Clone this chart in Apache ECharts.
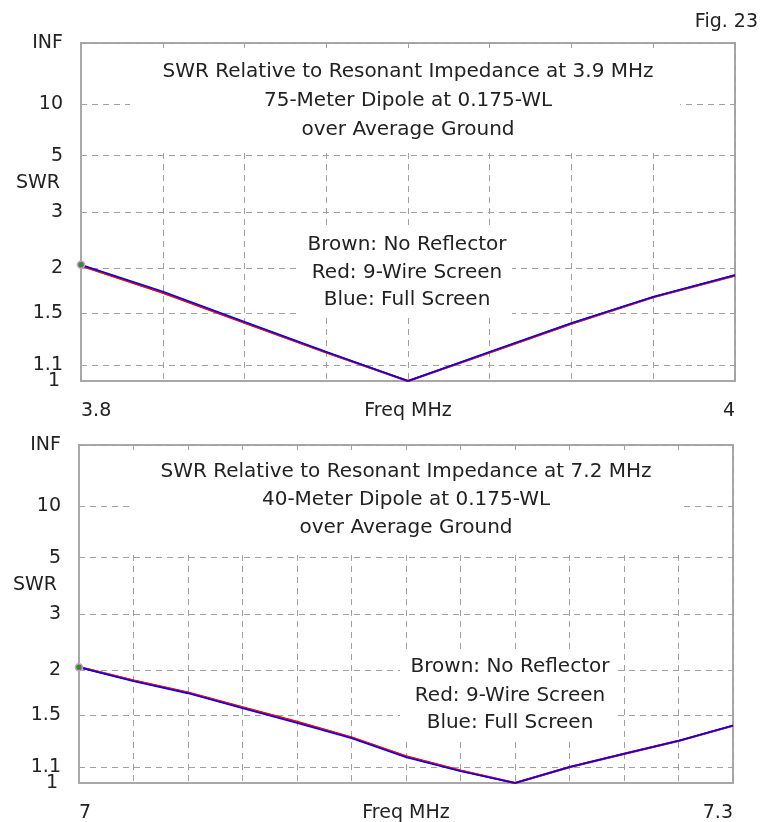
<!DOCTYPE html>
<html><head><meta charset="utf-8">
<script src="https://cdn.jsdelivr.net/npm/echarts@6/dist/echarts.min.js"></script>
<style>html,body{margin:0;padding:0;background:#fff}#c{width:761px;height:822px}</style>
</head><body><div id="c"></div>
<script>
// ---- data ----
const swrTickLabels = ['INF', 10, 5, 3, 2, 1.5, 1.1];
const swrBaseLabel = [1];

const freq75 = [3.8, 3.825, 3.85, 3.875, 3.9, 3.925, 3.95, 3.975, 4.0];
const brown75 = [2.035, 1.705, 1.415, 1.183, 1.0, 1.183, 1.408, 1.658, 1.905];
const red75   = [2.040, 1.710, 1.418, 1.185, 1.0, 1.185, 1.410, 1.660, 1.910];
const blue75  = [2.050, 1.720, 1.425, 1.190, 1.0, 1.190, 1.415, 1.665, 1.915];

const freq40 = [7.0, 7.025, 7.05, 7.075, 7.1, 7.125, 7.15, 7.175, 7.2, 7.225, 7.25, 7.275, 7.3];
const brown40 = [2.045, 1.870, 1.730, 1.575, 1.440, 1.312, 1.170, 1.076, 1.0, 1.098, 1.188, 1.284, 1.408];
const red40   = [2.045, 1.872, 1.732, 1.577, 1.442, 1.312, 1.172, 1.077, 1.0, 1.099, 1.189, 1.285, 1.409];
const blue40  = [2.040, 1.862, 1.722, 1.567, 1.432, 1.305, 1.165, 1.072, 1.0, 1.100, 1.190, 1.285, 1.410];

const title75 = ['SWR Relative to Resonant Impedance at 3.9 MHz', '75-Meter Dipole at 0.175-WL', 'over Average Ground'];
const title40 = ['SWR Relative to Resonant Impedance at 7.2 MHz', '40-Meter Dipole at 0.175-WL', 'over Average Ground'];
const legendLines = ['Brown: No Reflector', 'Red: 9-Wire Screen', 'Blue: Full Screen'];

// ---- helpers ----
function gamma(s) { return s === 'INF' ? 1 : (s - 1) / (s + 1); }
const tickGammas = swrTickLabels.map(gamma);
const baseGammas = swrBaseLabel.map(gamma);
const allLabels = swrTickLabels.concat(swrBaseLabel);
const allGammas = tickGammas.concat(baseGammas);
function labelFor(v) {
  let best = 0, d = 1e9;
  allGammas.forEach((g, i) => { const dd = Math.abs(g - v); if (dd < d) { d = dd; best = i; } });
  return String(allLabels[best]);
}
function pairs(xs, ys) { return xs.map((x, i) => [x, gamma(ys[i])]); }
function withMarker(arr) {
  return arr.map((p, i) => i === 0 ? {value: p, symbol: 'circle', symbolSize: 7,
    itemStyle: {color: '#1f9a1f', borderColor: '#e58ae5', borderWidth: 1.5}} : {value: p, symbol: 'none'});
}

const FONT = 'DejaVu Sans';
const TXT = '#222';
const GRID_LINE = {show: true, lineStyle: {color: '#a0a0a0', type: [6, 5], width: 1}};

const grids = [
  {left: 81, top: 43, width: 654, height: 338, show: true, borderColor: '#a8a8a8', borderWidth: 2,
   containLabel: false, outerBoundsMode: 'none'},
  {left: 79, top: 445, width: 654, height: 338, show: true, borderColor: '#a8a8a8', borderWidth: 2,
   containLabel: false, outerBoundsMode: 'none'}
];

function xAxis(idx, min, max) {
  return {
    type: 'value', gridIndex: idx, min: min, max: max, interval: 0.025,
    name: 'Freq MHz', nameLocation: 'middle', nameGap: 21, nameMoveOverlap: false,
    nameTextStyle: {fontFamily: FONT, fontSize: 19, color: TXT},
    axisLine: {show: true, lineStyle: {color: '#a8a8a8', width: 2}},
    axisTick: {show: false},
    splitLine: GRID_LINE,
    axisLabel: {
      customValues: [min, max], margin: 21, fontFamily: FONT, fontSize: 19, color: TXT,
      alignMinLabel: 'left', alignMaxLabel: 'right', hideOverlap: false,
      formatter: v => String(+(+v).toFixed(3))
    }
  };
}
function yAxis(idx) {
  return {
    type: 'value', gridIndex: idx, min: 0, max: 1, position: 'left',
    axisLine: {show: true, lineStyle: {color: '#a8a8a8', width: 2}},
    axisTick: {show: false, customValues: tickGammas},
    splitLine: GRID_LINE,
    axisLabel: {customValues: tickGammas, margin: 18, fontFamily: FONT, fontSize: 19, color: TXT,
      hideOverlap: false, formatter: v => labelFor(v)}
  };
}
// second left axis carrying only the base "1" label (it overlaps "1.1" in the original)
function yAxisBase(idx) {
  return {
    type: 'value', gridIndex: idx, min: 0, max: 1, position: 'left', offset: 0,
    axisLine: {show: false}, axisTick: {show: false}, splitLine: {show: false},
    axisLabel: {customValues: baseGammas, margin: 21, fontFamily: FONT, fontSize: 19, color: TXT,
      formatter: v => labelFor(v)}
  };
}
function line(name, color, idx, data, width, marker) {
  return {
    type: 'line', name: name, xAxisIndex: idx, yAxisIndex: idx,
    data: marker ? withMarker(data) : data,
    showSymbol: !!marker, symbol: 'none', lineStyle: {color: color, width: width},
    itemStyle: {color: color}, animation: false, z: 3
  };
}

function textEl(text, x, y, align, size) {
  return {type: 'text', x: x, y: y, z: 20,
    style: {text: text, fill: TXT, font: (size || 20) + 'px "' + FONT + '"', textAlign: align || 'center', textVerticalAlign: 'middle'}};
}
function rectEl(x, y, w, h) {
  return {type: 'rect', x: x, y: y, z: 15, shape: {width: w, height: h}, style: {fill: '#fff'}};
}

const graphic = [
  textEl('Fig. 23', 758, 22, 'right', 19),
  // top panel boxes
  rectEl(130, 48, 550, 104),
  textEl(title75[0], 408, 72), textEl(title75[1], 408, 101), textEl(title75[2], 408, 130),
  rectEl(300, 225, 212, 92),
  textEl(legendLines[0], 407, 245), textEl(legendLines[1], 407, 273), textEl(legendLines[2], 407, 300),
  textEl('SWR', 60, 183, 'right', 19),
  // bottom panel boxes
  rectEl(130, 450, 550, 103),
  textEl(title40[0], 406, 472), textEl(title40[1], 406, 500), textEl(title40[2], 406, 528),
  rectEl(400, 650, 215, 90),
  textEl(legendLines[0], 510, 667), textEl(legendLines[1], 510, 696), textEl(legendLines[2], 510, 723),
  textEl('SWR', 57, 585, 'right', 19)
];

const chart = echarts.init(document.getElementById('c'), null, {renderer: 'canvas'});
chart.setOption({
  backgroundColor: '#fff',
  animation: false,
  grid: grids,
  xAxis: [xAxis(0, 3.8, 4.0), xAxis(1, 7.0, 7.3)],
  yAxis: [yAxis(0), yAxis(1), yAxisBase(0), yAxisBase(1)],
  series: [
    line('Brown: No Reflector', '#8b4513', 0, pairs(freq75, brown75), 2, false),
    line('Red: 9-Wire Screen', '#ff0000', 0, pairs(freq75, red75), 2, false),
    line('Blue: Full Screen', '#0000ff', 0, pairs(freq75, blue75), 1.6, true),
    line('Brown: No Reflector', '#8b4513', 1, pairs(freq40, brown40), 2, false),
    line('Red: 9-Wire Screen', '#ff0000', 1, pairs(freq40, red40), 2, false),
    line('Blue: Full Screen', '#0000ff', 1, pairs(freq40, blue40), 1.6, true)
  ],
  graphic: graphic
});
</script>
</body></html>
